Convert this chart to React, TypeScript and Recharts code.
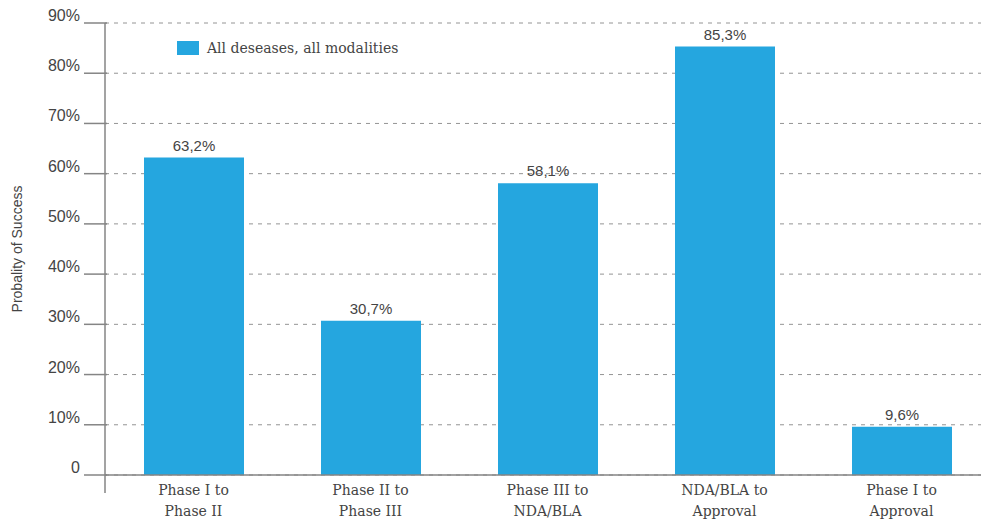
import React from 'react';
import { BarChart, Bar, XAxis, YAxis, CartesianGrid, Legend, LabelList } from 'recharts';

const categories = ['Phase I to\nPhase II', 'Phase II to\nPhase III', 'Phase III to\nNDA/BLA', 'NDA/BLA to\nApproval', 'Phase I to\nApproval'];
const successValues = [63.2, 30.7, 58.1, 85.3, 9.6];
const yTicks = [0, 10, 20, 30, 40, 50, 60, 70, 80, 90];

const seriesName = 'All deseases, all modalities';
const BLUE = '#25a6df';
const AXIS = '#858585';
const TEXT = '#444444';
const SANS = '"Liberation Sans", Arial, sans-serif';
const SERIF = '"DejaVu Serif", serif';

const data = categories.map((name, i) => ({ name, value: successValues[i] }));

const fmtPct = (v: number) => `${v.toFixed(1).replace('.', ',')}%`;

const YTick = ({ x, y, payload }: any) => {
  const axisX = x + 25;
  return (
    <g>
      <line x1={axisX - 21} y1={y} x2={axisX + 2} y2={y} stroke={AXIS} strokeWidth={1.5} />
      {payload.value === 0 && (
        <line x1={axisX} y1={y} x2={axisX} y2={y + 18} stroke={AXIS} strokeWidth={1.5} />
      )}
      <text x={x} y={y} dy={-2} textAnchor="end" fill={TEXT} fontFamily={SANS} fontSize={16}>
        {payload.value === 0 ? '0' : `${payload.value}%`}
      </text>
    </g>
  );
};

const XTick = ({ x, y, payload }: any) => {
  const lines = String(payload.value).split('\n');
  return (
    <text x={x} y={y} textAnchor="middle" fill={TEXT} fontFamily={SERIF} fontSize={14}>
      {lines.map((l, i) => (
        <tspan key={i} x={x} dy={i === 0 ? 12 : 21}>{l}</tspan>
      ))}
    </text>
  );
};

const LegendContent = () => (
  <div style={{ display: 'flex', alignItems: 'center', fontFamily: SERIF, fontSize: 14, color: TEXT }}>
    <span style={{ width: 22, height: 14, background: BLUE, display: 'inline-block', marginRight: 8 }} />
    {seriesName}
  </div>
);

export default function App() {
  return (
    <div style={{ position: 'absolute', left: 0, top: 0, background: '#fff' }}>
      <BarChart width={1000} height={527} data={data} margin={{ top: 23, right: 10, left: 0, bottom: 0 }}>
        <CartesianGrid vertical={false} stroke="#949494" strokeDasharray="4 5" />
        <XAxis
          dataKey="name"
          height={52}
          axisLine={{ stroke: AXIS, strokeWidth: 1.5 }}
          tickLine={false}
          tick={<XTick />}
          interval={0}
        />
        <YAxis
          width={105}
          domain={[0, 90]}
          ticks={yTicks}
          interval={0}
          tickSize={22}
          tickMargin={3}
          tickLine={false}
          axisLine={{ stroke: AXIS, strokeWidth: 1.5 }}
          tick={<YTick />}
          label={{ value: 'Probality of Success', angle: -90, position: 'insideLeft', offset: 17, style: { fontFamily: SANS, fontSize: 14, fill: TEXT, textAnchor: 'middle' } }}
        />
        <Legend
          layout="vertical"
          align="center"
          verticalAlign="middle"
          content={<LegendContent />}
          wrapperStyle={{ position: 'absolute', left: 177, top: 40, width: 'auto' }}
        />
        <Bar dataKey="value" name={seriesName} fill={BLUE} barSize={100} isAnimationActive={false}>
          <LabelList
            dataKey="value"
            position="top"
            offset={7}
            formatter={(v: any) => fmtPct(Number(v))}
            style={{ fill: TEXT, fontFamily: SANS, fontSize: 15 }}
          />
        </Bar>
      </BarChart>
    </div>
  );
}
